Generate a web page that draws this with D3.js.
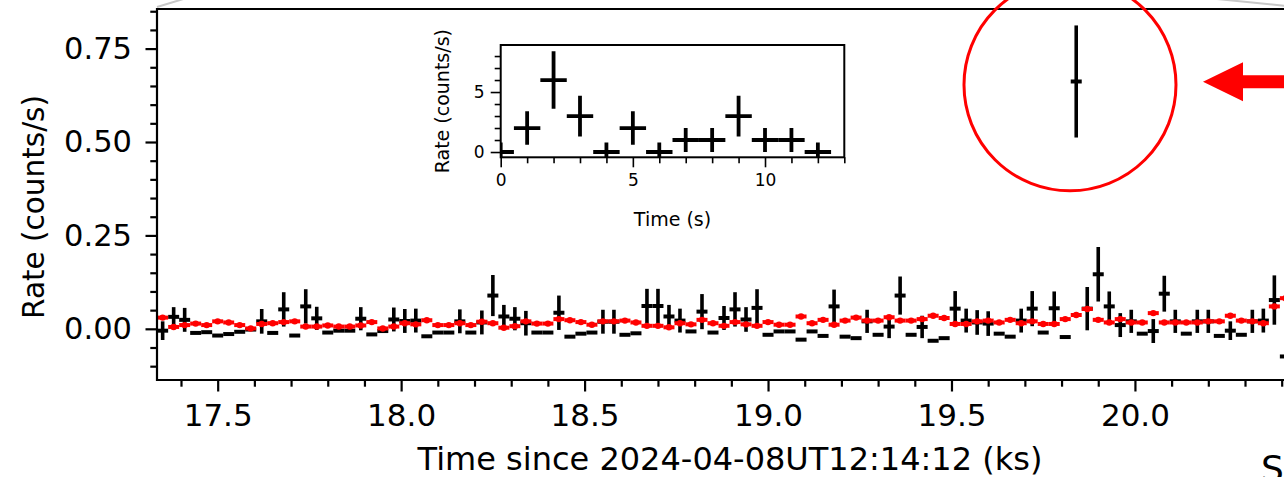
<!DOCTYPE html>
<html>
<head>
<meta charset="utf-8">
<script src="https://cdn.jsdelivr.net/npm/d3@7"></script>
<style>
body{margin:0;background:#fff}
text{font-family:"DejaVu Sans",sans-serif;fill:#000}
</style>
</head>
<body>
<svg width="1284" height="477"></svg>
<script>
// 30 s bins, bin centres in ks
const times = [17.350,17.380,17.410,17.440,17.470,17.500,17.530,17.560,17.590,17.620,
  17.650,17.680,17.710,17.740,17.770,17.800,17.830,17.860,17.890,17.920,
  17.950,17.980,18.010,18.040,18.070,18.100,18.130,18.160,18.190,18.220,
  18.250,18.280,18.310,18.340,18.370,18.400,18.430,18.460,18.490,18.520,
  18.550,18.580,18.610,18.640,18.670,18.700,18.730,18.760,18.790,18.820,
  18.850,18.880,18.910,18.940,18.970,19.000,19.030,19.060,19.090,19.120,
  19.150,19.180,19.210,19.240,19.270,19.300,19.330,19.360,19.390,19.420,
  19.450,19.480,19.510,19.540,19.570,19.600,19.630,19.660,19.690,19.720,
  19.750,19.780,19.810,19.840,19.870,19.900,19.930,19.960,19.990,20.020,
  20.050,20.080,20.110,20.140,20.170,20.200,20.230,20.260,20.290,20.320,
  20.350,20.380,20.410]
const rate = [-0.005,0.032,0.024,-0.011,-0.009,-0.018,-0.014,-0.008,-0.002,0.020,
  -0.011,0.052,-0.018,0.060,0.028,-0.010,-0.005,-0.005,0.027,-0.015,
  -0.006,0.025,0.021,0.022,-0.020,-0.010,-0.010,0.020,-0.010,0.017,
  0.089,0.033,0.027,0.015,-0.010,-0.010,0.043,-0.021,-0.013,-0.010,
  0.019,0.019,-0.016,-0.012,0.061,0.061,0.033,0.022,-0.007,0.046,
  -0.010,0.029,0.052,0.025,0.056,-0.016,-0.007,-0.007,-0.029,-0.007,
  -0.019,0.060,-0.021,-0.025,0.020,-0.016,0.006,0.089,-0.016,0.005,
  -0.032,-0.025,0.054,0.022,0.017,0.014,-0.013,-0.021,0.022,0.054,
  -0.010,0.055,-0.022,0.662,0.054,0.146,0.060,0.010,0.020,-0.013,
  -0.006,0.094,0.020,-0.013,0.020,0.020,-0.019,-0.005,-0.016,0.020,
  0.022,0.077,-0.074]
const rateErr = [0.025,0.026,0.032,0,0,0,0,0,0,0.033,
  0,0.046,0,0.046,0.031,0,0,0,0.031,0,
  0,0.032,0.032,0.032,0,0,0,0.032,0,0.032,
  0.055,0.031,0.031,0.033,0,0,0.046,0,0,0,
  0.032,0.032,0,0,0.046,0.046,0.031,0.032,0,0.047,
  0,0.032,0.046,0.033,0.050,0,0,0,0,0,
  0,0.045,0,0,0.031,0,0.031,0.051,0,0.030,
  0,0,0.047,0.032,0.033,0.033,0,0,0.032,0.047,
  0,0.045,0,0.150,0.058,0.073,0.040,0.032,0.031,0,
  0.032,0.048,0.031,0,0.031,0.031,0,0.025,0,0.031,
  0.032,0.066,0]
const refRate = [0.030,0.005,0.010,0.014,0.010,0.020,0.017,0.010,0.001,0.013,
  0.015,0.018,0.020,0.006,0.006,0.009,0.006,0.006,0.009,0.018,
  0.001,0.006,0.015,0.012,0.023,0.010,0.010,0.015,0.010,0.019,
  0.015,0.003,0.007,0.020,0.014,0.014,0.026,0.023,0.018,0.011,
  0.020,0.020,0.022,0.017,0.008,0.008,0.004,0.015,0.012,0.024,
  0.015,0.008,0.018,0.012,0.008,0.018,0.011,0.011,0.033,0.015,
  0.024,0.011,0.022,0.030,0.022,0.022,0.031,0.022,0.022,0.026,
  0.035,0.029,0.013,0.013,0.020,0.022,0.017,0.024,0.015,0.020,
  0.013,0.013,0.026,0.037,0.053,0.024,0.017,0.026,0.017,0.017,
  0.042,0.017,0.017,0.017,0.017,0.020,0.020,0.035,0.022,0.020,
  0.015,0.060,0.082]
const binHalf = 0.015

// inset: 1 s light curve of the burst
const insetTime = [0,1,2,3,4,5,6,7,8,9,10,11,12]
const insetRate = [0,2,6,3,0,2,0,1,1,3,1,1,0]
const insetErr = [0.8,1.4,2.4,1.7,0.8,1.4,0.8,1.0,1.0,1.7,1.0,1.0,0.8]

const xMajor = [17.5,18.0,18.5,19.0,19.5,20.0]
const yMajor = [0,0.25,0.5,0.75]

const svg = d3.select("svg")
const box = {left:157, top:9, right:1320, bottom:380}
const inset = {left:500.7, top:45, right:844.3, bottom:157.3}

const x = d3.scaleLinear().domain([17.3346,20.5]).range([box.left, box.left+(20.5-17.3346)*366.9])
const y = d3.scaleLinear().domain([-0.137,0.856]).range([box.bottom, box.top])

svg.append("defs").append("clipPath").attr("id","clipMain")
  .append("rect").attr("x",box.left).attr("y",box.top)
  .attr("width",box.right-box.left).attr("height",box.bottom-box.top)

const styleAxis = (g, fs, sw) => {
  g.select(".domain").remove()
  g.selectAll(".tick line").attr("stroke","#000").attr("stroke-width",sw)
  g.selectAll(".tick text").attr("font-size",fs).attr("font-family","DejaVu Sans")
}

// main data
const pts = times.map((t,i)=>({t, v:rate[i], e:rateErr[i], r:refRate[i]}))
const dg = svg.append("g").attr("clip-path","url(#clipMain)")
dg.selectAll(".eb").data(pts.filter(d=>d.e>0)).join("line").attr("class","eb")
  .attr("x1",d=>x(d.t)).attr("x2",d=>x(d.t))
  .attr("y1",d=>y(d.v-d.e)).attr("y2",d=>y(d.v+d.e))
  .attr("stroke","#000").attr("stroke-width",3.6)
dg.selectAll(".xb").data(pts).join("line").attr("class","xb")
  .attr("x1",d=>x(d.t-binHalf)).attr("x2",d=>x(d.t+binHalf))
  .attr("y1",d=>y(d.v)).attr("y2",d=>y(d.v))
  .attr("stroke","#000").attr("stroke-width",4)
dg.selectAll(".rb").data(pts).join("line").attr("class","rb")
  .attr("x1",d=>x(d.t-binHalf)).attr("x2",d=>x(d.t+binHalf))
  .attr("y1",d=>y(d.r)).attr("y2",d=>y(d.r))
  .attr("stroke","#ff0000").attr("stroke-width",4)
dg.selectAll(".rm").data(pts).join("circle").attr("class","rm")
  .attr("cx",d=>x(d.t)).attr("cy",d=>y(d.r)).attr("r",3.2)
  .attr("fill","#ff0000")

// main axes
const xMinor = d3.range(174,206).map(d=>d/10).filter(d=>!xMajor.some(m=>Math.abs(m-d)<1e-6))
const yMinor = d3.range(-2,18).map(d=>d*0.05).filter(d=>!yMajor.some(m=>Math.abs(m-d)<1e-6))

svg.append("g").attr("transform",`translate(0,${box.bottom})`)
  .call(d3.axisBottom(x).tickValues(xMinor).tickSize(6.7).tickFormat(""))
  .call(g=>styleAxis(g,31,2.2))
svg.append("g").attr("transform",`translate(0,${box.bottom})`)
  .call(d3.axisBottom(x).tickValues(xMajor).tickSize(11.5).tickPadding(12.5).tickFormat(d3.format(".1f")))
  .call(g=>styleAxis(g,31,2.2))
svg.append("g").attr("transform",`translate(${box.left},0)`)
  .call(d3.axisLeft(y).tickValues(yMinor).tickSize(6.7).tickFormat(""))
  .call(g=>styleAxis(g,31,2.2))
svg.append("g").attr("transform",`translate(${box.left},0)`)
  .call(d3.axisLeft(y).tickValues(yMajor).tickSize(11.5).tickPadding(13.5).tickFormat(d3.format(".2f")))
  .call(g=>styleAxis(g,30.5,2.2))

svg.append("path")
  .attr("d",`M${box.right},${box.top}H${box.left}V${box.bottom}H${box.right}`)
  .attr("fill","none").attr("stroke","#000").attr("stroke-width",2.2)

svg.append("text").attr("x",730).attr("y",470).attr("text-anchor","middle")
  .attr("font-size",32).text("Time since 2024-04-08UT12:14:12 (ks)")
svg.append("text").attr("transform","translate(44,207) rotate(-90)").attr("text-anchor","middle")
  .attr("font-size",29.5).text("Rate (counts/s)")

// inset
const xi = d3.scaleLinear().domain([0,13]).range([inset.left,inset.right])
const yi = d3.scaleLinear().domain([-0.44,8.92]).range([inset.bottom,inset.top])

svg.append("rect").attr("x",inset.left).attr("y",inset.top)
  .attr("width",inset.right-inset.left).attr("height",inset.bottom-inset.top).attr("fill","#fff")
svg.append("defs").append("clipPath").attr("id","clipInset")
  .append("rect").attr("x",inset.left).attr("y",inset.top)
  .attr("width",inset.right-inset.left).attr("height",inset.bottom-inset.top)

const ipts = insetTime.map((t,i)=>({t, v:insetRate[i], e:insetErr[i]}))
const ig = svg.append("g").attr("clip-path","url(#clipInset)")
ig.selectAll(".ie").data(ipts).join("line").attr("class","ie")
  .attr("x1",d=>xi(d.t)).attr("x2",d=>xi(d.t))
  .attr("y1",d=>yi(d.v-d.e)).attr("y2",d=>yi(d.v+d.e))
  .attr("stroke","#000").attr("stroke-width",3.8)
ig.selectAll(".ix").data(ipts).join("line").attr("class","ix")
  .attr("x1",d=>xi(d.t-0.5)).attr("x2",d=>xi(d.t+0.5))
  .attr("y1",d=>yi(d.v)).attr("y2",d=>yi(d.v))
  .attr("stroke","#000").attr("stroke-width",3.8)

svg.append("g").attr("transform",`translate(0,${inset.bottom})`)
  .call(d3.axisBottom(xi).tickValues(d3.range(0,14).filter(d=>d%5)).tickSize(6).tickFormat(""))
  .call(g=>styleAxis(g,17,1.6))
svg.append("g").attr("transform",`translate(0,${inset.bottom})`)
  .call(d3.axisBottom(xi).tickValues([0,5,10]).tickSize(10).tickPadding(7))
  .call(g=>styleAxis(g,17,1.6))
svg.append("g").attr("transform",`translate(${inset.left},0)`)
  .call(d3.axisLeft(yi).tickValues(d3.range(1,9).filter(d=>d%5)).tickSize(6).tickFormat(""))
  .call(g=>styleAxis(g,17,1.6))
svg.append("g").attr("transform",`translate(${inset.left},0)`)
  .call(d3.axisLeft(yi).tickValues([0,5]).tickSize(10).tickPadding(6))
  .call(g=>styleAxis(g,17,1.6))
svg.append("rect").attr("x",inset.left).attr("y",inset.top)
  .attr("width",inset.right-inset.left).attr("height",inset.bottom-inset.top)
  .attr("fill","none").attr("stroke","#000").attr("stroke-width",2)

svg.append("text").attr("x",(inset.left+inset.right)/2).attr("y",226).attr("text-anchor","middle")
  .attr("font-size",19).text("Time (s)")
svg.append("text").attr("transform",`translate(449,${(inset.top+inset.bottom)/2}) rotate(-90)`)
  .attr("text-anchor","middle").attr("font-size",19).text("Rate (counts/s)")

// annotation around the burst bin
const burst = {t:19.823, v:0.653}
svg.append("circle").attr("cx",x(burst.t)).attr("cy",y(burst.v)).attr("r",106)
  .attr("fill","none").attr("stroke","#ff0000").attr("stroke-width",3)
const tipX = x(20.1855), tipY = y(0.661)
svg.append("path")
  .attr("d",`M${tipX},${tipY}L${tipX+40},${tipY-19.5}V${tipY-6.5}H${tipX+100}V${tipY+6.5}H${tipX+40}V${tipY+19.5}Z`)
  .attr("fill","#ff0000")

// connector lines from the enclosing figure
svg.append("line").attr("x1",box.left).attr("y1",box.top-2).attr("x2",box.left+33).attr("y2",box.top-12)
  .attr("stroke","#c8c8c8").attr("stroke-width",2)
svg.append("line").attr("x1",1212).attr("y1",-1.5).attr("x2",1290).attr("y2",6.3)
  .attr("stroke","#c8c8c8").attr("stroke-width",2)

// start of a larger label that continues past the crop
svg.append("text").attr("x",1261).attr("y",481).attr("font-size",36).text("S")
</script>
</body>
</html>
